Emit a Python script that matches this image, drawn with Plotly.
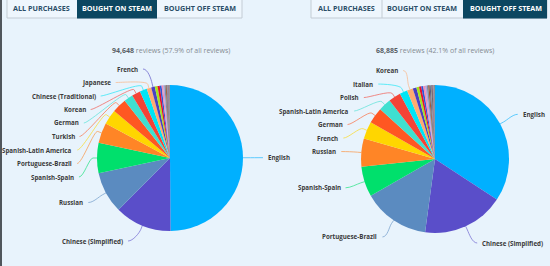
import math
import plotly.graph_objects as go

# ---------------- data ----------------
left_langs = ["English", "Chinese (Simplified)", "Russian", "Spanish-Spain", "Portuguese-Brazil",
              "Spanish-Latin America", "Turkish", "German", "Korean", "Chinese (Traditional)",
              "Japanese", "French", "Italian", "Polish", "Thai", "Ukrainian", "Czech", "Vietnamese",
              "Hungarian", "Swedish", "Dutch", "Danish", "Finnish", "Norwegian", "Romanian",
              "Greek", "Bulgarian", "Arabic"]
left_counts = [47220, 11900, 8700, 6340, 4260, 3120, 3030, 1890, 1800, 1510, 950, 760,
               570, 470, 380, 300, 280, 280, 190, 150, 120, 100, 80, 70, 60, 50, 40, 30]
left_labelled = 12

right_langs = ["English", "Chinese (Simplified)", "Portuguese-Brazil", "Spanish-Spain", "Russian",
               "French", "German", "Spanish-Latin America", "Polish", "Italian", "Korean",
               "Japanese", "Turkish", "Chinese (Traditional)", "Thai", "Czech", "Ukrainian",
               "Hungarian", "Dutch", "Swedish", "Vietnamese", "Danish", "Finnish", "Romanian",
               "Norwegian", "Greek", "Bulgarian", "Arabic"]
right_counts = [23585, 12330, 10060, 4550, 4200, 2620, 2410, 1880, 1840, 1170, 900,
                550, 400, 330, 300, 270, 250, 220, 200, 180, 150, 120, 100, 80, 70, 50, 40, 30]
right_labelled = 11

left_subtitle = ("94,648", "57.9%")
right_subtitle = ("68,885", "42.1%")
button_labels = ["ALL PURCHASES", "BOUGHT ON STEAM", "BOUGHT OFF STEAM"]
left_active, right_active = 1, 2

# ---------------- style ----------------
W, H = 550, 266
BG = "#e8f3fc"
palette = ["#00b0ff", "#5a4ec9", "#5b8bc0", "#00e06c", "#ff8526", "#ffd600", "#ff5722",
           "#3fe0d0", "#f44336", "#00e5f5", "#ffab70", "#4b40c0", "#a6e31c", "#e5102e",
           "#2f56d8", "#f48fb1", "#b9a0e0", "#7b8fa0", "#a0522d", "#5c5c80", "#8a8a8a",
           "#3e3e3e", "#c06090", "#6a6a6a", "#909fb0", "#505050", "#707070", "#404a50"]


def px(x):
    return x / W


def py(y):
    return 1 - y / H


fig = go.Figure()
shapes = []
annotations = []


def add_pie(cx, cy, r, langs, counts, n_lab, name):
    fig.add_trace(go.Pie(
        labels=langs, values=counts, name=name, sort=False, direction="clockwise",
        rotation=0, textinfo="none", hoverinfo="label+value+percent",
        marker=dict(colors=palette[:len(langs)], line=dict(width=0)),
        domain=dict(x=[px(cx - r), px(cx + r)], y=[py(cy + r), py(cy - r)]),
        showlegend=False,
    ))
    total = sum(counts)
    dist = 20
    R = r + dist
    items = []
    cum = 0
    for i, (lang, c) in enumerate(zip(langs, counts)):
        a0 = cum / total * 360
        cum += c
        a1 = cum / total * 360
        if i >= n_lab:
            continue
        mid = math.radians((a0 + a1) / 2)
        side = 1 if math.sin(mid) >= 0 else -1
        items.append(dict(lang=lang, mid=mid, side=side, ny=cy - R * math.cos(mid),
                          color=palette[i]))
    ymin, ymax, h = cy - r - 16, cy + r + 10, 13.5
    for side in (1, -1):
        grp = sorted([it for it in items if it["side"] == side], key=lambda t: t["ny"])
        prev = None
        for it in grp:
            y = max(it["ny"], ymin)
            if prev is not None:
                y = max(y, prev + h)
            it["y"] = y
            prev = y
        nxt = None
        for it in reversed(grp):
            y = min(it["y"], ymax)
            if nxt is not None:
                y = min(y, nxt - h)
            it["y"] = y
            nxt = y
        for it in grp:
            dy = it["y"] - cy
            it["x"] = cx + side * math.sqrt(max(R * R - dy * dy, 0))
    for it in items:
        m, s = it["mid"], it["side"]
        tx, ty = cx + r * math.sin(m), cy - r * math.cos(m)
        bx, by = cx + (r + 4) * math.sin(m), cy - (r + 4) * math.cos(m)
        lx, ly = it["x"], it["y"]
        path = (f"M {px(lx)} {py(ly)} C {px(lx - s * 5)} {py(ly)} {px(2 * bx - tx)} {py(2 * by - ty)} "
                f"{px(bx)} {py(by)} L {px(tx)} {py(ty)}")
        shapes.append(dict(type="path", xref="paper", yref="paper", path=path,
                           line=dict(color=it["color"], width=0.8), opacity=0.75, layer="below"))
        annotations.append(dict(
            x=px(lx + s * 3), y=py(ly), xref="paper", yref="paper", showarrow=False,
            xanchor="left" if s > 0 else "right", yanchor="middle",
            text=f"<b>{it['lang']}</b>", font=dict(family="Open Sans", size=6.2, color="#3a3a3a")))


add_pie(170, 158, 73, left_langs, left_counts, left_labelled, "Bought on Steam")
add_pie(435, 159, 74, right_langs, right_counts, right_labelled, "Bought off Steam")

# subtitles
for cx, (num, pct) in ((171, left_subtitle), (435, right_subtitle)):
    annotations.append(dict(
        x=px(cx), y=py(50), xref="paper", yref="paper", showarrow=False,
        xanchor="center", yanchor="middle",
        text=f"<b><span style='color:#5a5f66'>{num}</span></b> reviews ({pct} of all reviews)",
        font=dict(family="Open Sans", size=7, color="#858b92")))

# button groups
groups = [
    dict(bounds=[7, 77, 157, 242], centers=[41.5, 117, 200], active=left_active),
    dict(bounds=[311, 382, 463, 547], centers=[346.5, 422, 505.5], active=right_active),
]
for g in groups:
    b = g["bounds"]
    x0, x1, y0, y1 = b[0], b[3], -3, 18
    shapes.append(dict(type="rect", xref="paper", yref="paper", x0=px(x0), x1=px(x1),
                       y0=py(y1), y1=py(y0), fillcolor="#eef6fd",
                       line=dict(color="#c3ccd4", width=1)))
    a = g["active"]
    shapes.append(dict(type="rect", xref="paper", yref="paper", x0=px(b[a]), x1=px(b[a + 1]),
                       y0=py(y1 + 0.5), y1=py(y0), fillcolor="#0c4761", line=dict(width=0)))
    for k in (1, 2):
        if k != a and k != a + 1:
            shapes.append(dict(type="line", xref="paper", yref="paper", x0=px(b[k]), x1=px(b[k]),
                               y0=py(y1), y1=py(y0), line=dict(color="#c3ccd4", width=1)))
    for i, lab in enumerate(button_labels):
        annotations.append(dict(
            x=px(g["centers"][i]), y=py(8.3), xref="paper", yref="paper", showarrow=False,
            xanchor="center", yanchor="middle", text=f"<b>{lab}</b>",
            font=dict(family="Open Sans", size=7.2,
                      color="#ffffff" if i == a else "#2b4e68")))

# left dark edge
shapes.append(dict(type="rect", xref="paper", yref="paper", x0=0, x1=px(2), y0=0, y1=1,
                   fillcolor="#50565c", line=dict(width=0)))

fig.update_layout(
    width=W, height=H, margin=dict(l=0, r=0, t=0, b=0),
    paper_bgcolor=BG, plot_bgcolor=BG,
    shapes=shapes, annotations=annotations,
)
fig.write_html("out.html")
